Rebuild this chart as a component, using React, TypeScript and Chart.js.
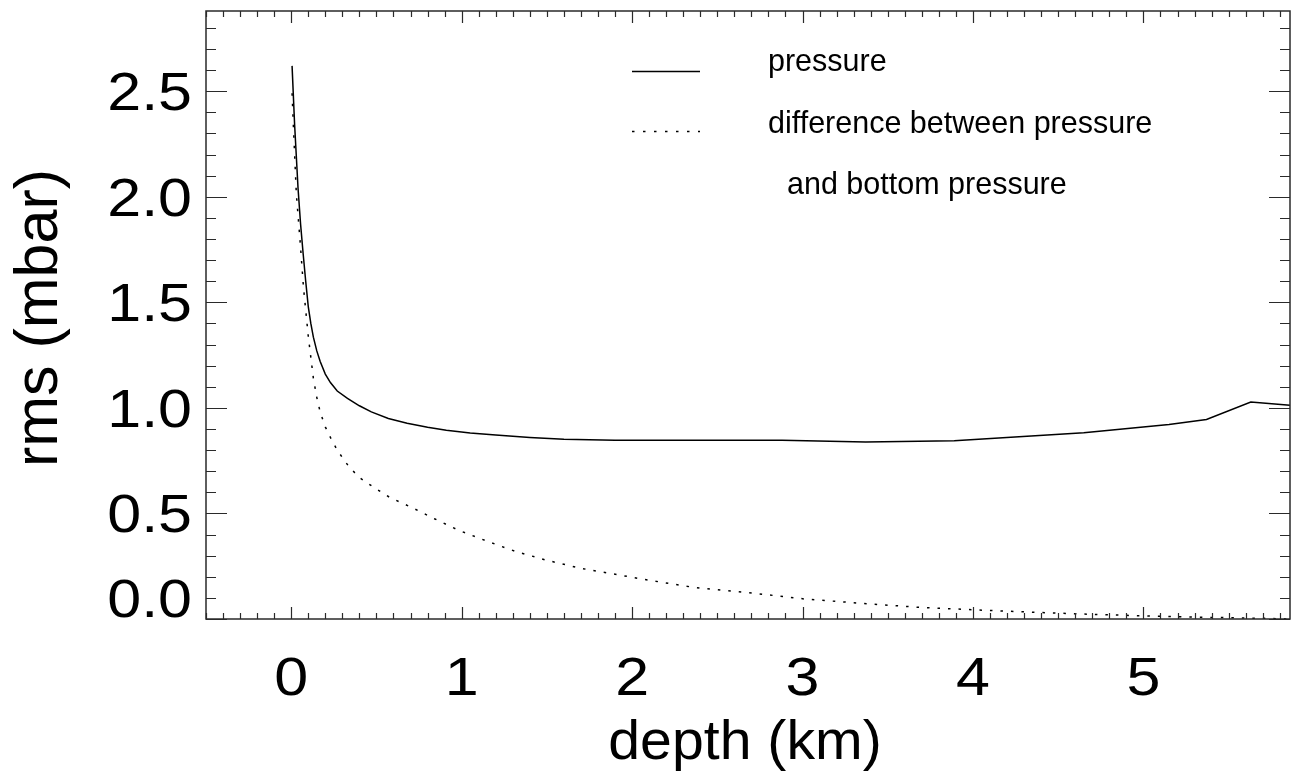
import React, { useEffect, useRef } from "react";
import { Chart, registerables } from "chart.js";

Chart.register(...registerables);

// ---- data ----
const pressureDepth = [0.005, 0.02, 0.04, 0.055, 0.07, 0.085, 0.1, 0.115, 0.13, 0.15, 0.17, 0.2, 0.23, 0.27, 0.33, 0.4, 0.47, 0.57, 0.68, 0.8, 0.91, 1.05, 1.2, 1.4, 1.6, 1.9, 2.4, 2.88, 3.37, 3.89, 4.65, 5.15, 5.37, 5.63, 5.86];
const pressureRms = [2.62, 2.34, 2.04, 1.87, 1.73, 1.6, 1.48, 1.4, 1.335, 1.27, 1.22, 1.16, 1.12, 1.08, 1.045, 1.01, 0.981, 0.95, 0.927, 0.908, 0.894, 0.881, 0.871, 0.86, 0.852, 0.847, 0.847, 0.847, 0.838, 0.844, 0.882, 0.921, 0.945, 1.028, 1.013];

const diffDepth = [0.005, 0.013, 0.03, 0.053, 0.072, 0.1, 0.13, 0.15, 0.17, 0.2, 0.23, 0.27, 0.3, 0.34, 0.4, 0.48, 0.58, 0.7, 0.84, 0.98, 1.15, 1.32, 1.5, 1.7, 2.09, 2.36, 2.68, 3.01, 3.35, 3.69, 4.02, 4.36, 4.7, 5.04, 5.37, 5.71, 5.86];
const diffRms = [2.49, 2.33, 2.015, 1.78, 1.57, 1.34, 1.14, 1.05, 0.98, 0.91, 0.86, 0.8, 0.765, 0.72, 0.67, 0.626, 0.575, 0.531, 0.475, 0.421, 0.368, 0.319, 0.278, 0.24, 0.185, 0.15, 0.125, 0.095, 0.074, 0.055, 0.043, 0.032, 0.022, 0.014, 0.008, 0.003, 0.0];

const xTickValues = [0, 1, 2, 3, 4, 5];
const xTickLabels = ["0", "1", "2", "3", "4", "5"];
const yTickValues = [0, 0.5, 1.0, 1.5, 2.0, 2.5];
const yTickLabels = ["0.0", "0.5", "1.0", "1.5", "2.0", "2.5"];
const legendLabels = ["pressure", "difference between pressure", "and bottom pressure"];
const xTitle = "depth (km)";
const yTitle = "rms (mbar)";

const X_MIN = -0.5;
const X_MAX = 5.86;
const Y_MIN = 0;
const Y_MAX = 2.88;

const FONT = '"Liberation Sans", Arial, Helvetica, sans-serif';
const AXIS_COLOR = "#2a2a2a";

function drawText(
  ctx: CanvasRenderingContext2D,
  text: string,
  x: number,
  y: number,
  size: number,
  sx: number,
  align: "left" | "center" | "right"
) {
  ctx.save();
  ctx.font = `${size}px ${FONT}`;
  ctx.textBaseline = "alphabetic";
  ctx.textAlign = "left";
  const w = ctx.measureText(text).width * sx;
  const left = align === "center" ? x - w / 2 : align === "right" ? x - w : x;
  ctx.translate(left, y);
  ctx.scale(sx, 1);
  ctx.fillStyle = "#000";
  ctx.fillText(text, 0, 0);
  ctx.restore();
}

const idlAxesPlugin = {
  id: "idlAxes",
  afterDraw(chart: any) {
    const ctx: CanvasRenderingContext2D = chart.ctx;
    const { left, right, top, bottom } = chart.chartArea;
    const xs = chart.scales.x;
    const ys = chart.scales.y;

    ctx.save();
    // frame
    ctx.strokeStyle = AXIS_COLOR;
    ctx.lineWidth = 1.5;
    ctx.strokeRect(left, top, right - left, bottom - top);

    // x ticks (bottom and top)
    ctx.beginPath();
    for (let i = Math.ceil(X_MIN * 10); i <= Math.floor(X_MAX * 10); i++) {
      const px = Math.round(xs.getPixelForValue(i / 10)) + 0.5;
      const len = i % 10 === 0 ? 12 : 6;
      ctx.moveTo(px, bottom);
      ctx.lineTo(px, bottom - len);
      ctx.moveTo(px, top);
      ctx.lineTo(px, top + len);
    }
    // y ticks (left and right)
    for (let i = Math.ceil(Y_MIN * 10); i <= Math.floor(Y_MAX * 10); i++) {
      const py = Math.round(ys.getPixelForValue(i / 10)) + 0.5;
      const len = i % 5 === 0 ? 21 : 10;
      ctx.moveTo(left, py);
      ctx.lineTo(left + len, py);
      ctx.moveTo(right, py);
      ctx.lineTo(right - len, py);
    }
    ctx.lineWidth = 1.2;
    ctx.stroke();

    // tick labels
    xTickValues.forEach((v, i) => {
      drawText(ctx, xTickLabels[i], xs.getPixelForValue(v), 695, 53, 1.15, "center");
    });
    yTickValues.forEach((v, i) => {
      let py = ys.getPixelForValue(v) + 19;
      if (v === 0) py = 617;
      drawText(ctx, yTickLabels[i], 192, py, 53, 1.15, "right");
    });

    // axis titles
    drawText(ctx, xTitle, 745, 759, 55, 1.04, "center");
    ctx.save();
    ctx.translate(57, 318);
    ctx.rotate(-Math.PI / 2);
    drawText(ctx, yTitle, 0, 0, 61, 1, "center");
    ctx.restore();

    // legend
    ctx.strokeStyle = "#000";
    ctx.lineWidth = 1.3;
    ctx.setLineDash([]);
    ctx.beginPath();
    ctx.moveTo(632, 71.5);
    ctx.lineTo(700, 71.5);
    ctx.stroke();
    ctx.setLineDash([2.5, 8.5]);
    ctx.beginPath();
    ctx.moveTo(632, 131.5);
    ctx.lineTo(700, 131.5);
    ctx.stroke();
    ctx.setLineDash([]);
    drawText(ctx, legendLabels[0], 768, 71, 30.5, 1, "left");
    drawText(ctx, legendLabels[1], 768, 133, 30.5, 1, "left");
    drawText(ctx, legendLabels[2], 787, 194, 30.5, 1, "left");
    ctx.restore();
  },
};

export default function App() {
  const canvasRef = useRef<HTMLCanvasElement | null>(null);

  useEffect(() => {
    const canvas = canvasRef.current;
    if (!canvas) return;
    const chart = new Chart(canvas, {
      type: "line",
      data: {
        datasets: [
          {
            label: legendLabels[0],
            data: pressureDepth.map((x, i) => ({ x, y: pressureRms[i] })),
            borderColor: "#000",
            borderWidth: 1.5,
            pointRadius: 0,
            tension: 0,
            fill: false,
          },
          {
            label: legendLabels[1] + " " + legendLabels[2],
            data: diffDepth.map((x, i) => ({ x, y: diffRms[i] })),
            borderColor: "#000",
            borderWidth: 1.5,
            borderDash: [2.5, 8],
            pointRadius: 0,
            tension: 0,
            fill: false,
          },
        ],
      },
      options: {
        animation: false,
        responsive: false,
        devicePixelRatio: 1,
        layout: { padding: { left: 206, top: 11, right: 1, bottom: 152 } },
        scales: {
          x: { type: "linear", min: X_MIN, max: X_MAX, display: false },
          y: { type: "linear", min: Y_MIN, max: Y_MAX, display: false },
        },
        plugins: {
          legend: { display: false },
          tooltip: { enabled: false },
        },
      },
      plugins: [idlAxesPlugin],
    });
    return () => chart.destroy();
  }, []);

  return (
    <div style={{ position: "fixed", left: 0, top: 0, width: 1291, height: 771, background: "#fff" }}>
      <canvas ref={canvasRef} width={1291} height={771} style={{ display: "block" }} />
    </div>
  );
}
